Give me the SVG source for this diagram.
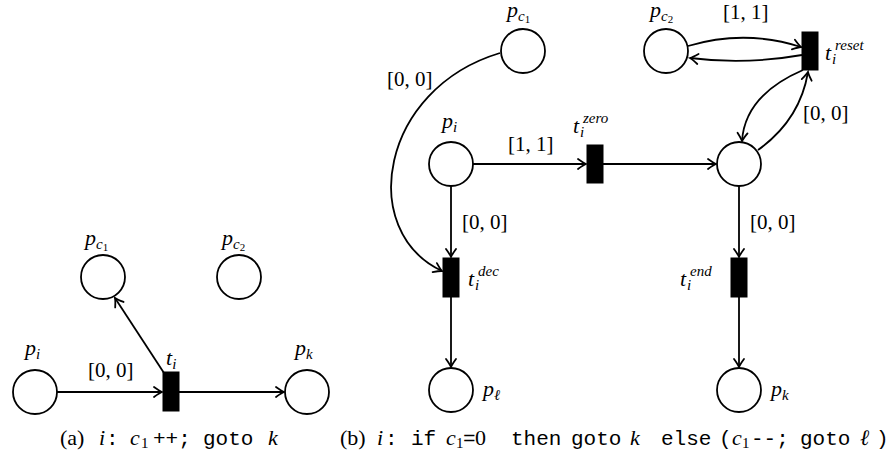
<svg xmlns="http://www.w3.org/2000/svg" width="891" height="457" viewBox="0 0 891 457">
<style>
.pl{fill:#fff;stroke:#000;stroke-width:1.8}
.tr{fill:#000;stroke:#000;stroke-width:1}
.e{fill:none;stroke:#000;stroke-width:1.8;marker-end:url(#ah)}
text{font-family:"Liberation Serif","DejaVu Serif",serif;font-size:21px;fill:#000}
.m{font-size:22px;font-style:italic}
.it{font-style:italic}
.sb{font-size:15px}
.ss{font-size:11px}
.tt{font-family:"Liberation Mono","DejaVu Sans Mono",monospace;font-size:21px}
.cap{font-size:22px}
</style>
<defs>
<marker id="ah" markerUnits="userSpaceOnUse" markerWidth="14" markerHeight="14" refX="0" refY="0" viewBox="-10 -7 12 14" orient="auto" overflow="visible">
<path d="M-8,-5 Q-2.5,-1 0,0 Q-2.5,1 -8,5" fill="none" stroke="#000" stroke-width="1.8" stroke-linecap="round"/>
</marker>
</defs>
<g id="connectors">
<path class="e" d="M57,392 L162,392"/>
<path class="e" d="M179,392 L284,392"/>
<path class="e" d="M164,373 L115,298"/>
<path class="e" d="M473,164 L586,164"/>
<path class="e" d="M603,164 L716,164"/>
<path class="e" d="M451,186 L451,257"/>
<path class="e" d="M451,297 L451,367"/>
<path class="e" d="M739,186 L739,257"/>
<path class="e" d="M739,297 L739,367"/>
<path class="e" d="M500,53 C380,89 357,231 442,271"/>
<path class="e" d="M688,46 Q745,29 801,47"/>
<path class="e" d="M802,55 Q745,65 690,58"/>
<path class="e" d="M803,70 Q745,95 742,141"/>
<path class="e" d="M758,150 Q800,120 808,72"/>
</g>
<g id="a-pi"><circle class="pl" cx="35" cy="392" r="22"/><text x="25" y="355"><tspan class="m">p</tspan><tspan class="it sb" dy="4">i</tspan></text></g>
<g id="a-pc1"><circle class="pl" cx="103" cy="277" r="22"/><text x="85" y="245"><tspan class="m">p</tspan><tspan class="it sb" dy="4">c</tspan><tspan class="ss" dy="2">1</tspan></text></g>
<g id="a-pc2"><circle class="pl" cx="239" cy="277" r="22"/><text x="222" y="245"><tspan class="m">p</tspan><tspan class="it sb" dy="4">c</tspan><tspan class="ss" dy="2">2</tspan></text></g>
<g id="a-pk"><circle class="pl" cx="307" cy="392" r="22"/><text x="295" y="355"><tspan class="m">p</tspan><tspan class="it sb" dy="4">k</tspan></text></g>
<g id="a-ti"><rect class="tr" x="163" y="372" width="16" height="39"/><text x="166" y="365"><tspan class="m">t</tspan><tspan class="it sb" dy="4">i</tspan></text></g>
<text x="88" y="377">[0, 0]</text>
<g id="b-pc1"><circle class="pl" cx="523" cy="51" r="22"/><text x="507" y="17"><tspan class="m">p</tspan><tspan class="it sb" dy="4">c</tspan><tspan class="ss" dy="2">1</tspan></text></g>
<g id="b-pc2"><circle class="pl" cx="666" cy="51" r="22"/><text x="650" y="17"><tspan class="m">p</tspan><tspan class="it sb" dy="4">c</tspan><tspan class="ss" dy="2">2</tspan></text></g>
<g id="b-pi"><circle class="pl" cx="451" cy="164" r="22"/><text x="442" y="128"><tspan class="m">p</tspan><tspan class="it sb" dy="4">i</tspan></text></g>
<g id="b-pz"><circle class="pl" cx="739" cy="164" r="22"/></g>
<g id="b-pl"><circle class="pl" cx="451" cy="390" r="22"/><text x="483" y="396"><tspan class="m">p</tspan><tspan class="it sb" dy="4">ℓ</tspan></text></g>
<g id="b-pk"><circle class="pl" cx="739" cy="390" r="22"/><text x="771" y="396"><tspan class="m">p</tspan><tspan class="it sb" dy="4">k</tspan></text></g>
<g id="b-tzero"><rect class="tr" x="587" y="145" width="16" height="38"/><text x="573" y="133"><tspan class="m">t</tspan><tspan class="it sb" x="580" dy="4">i</tspan><tspan class="it sb" x="583" dy="-14">zero</tspan></text></g>
<g id="b-treset"><rect class="tr" x="802" y="32" width="16" height="38"/><text x="825" y="60"><tspan class="m">t</tspan><tspan class="it sb" x="832" dy="4">i</tspan><tspan class="it sb" x="835" dy="-14">reset</tspan></text></g>
<g id="b-tdec"><rect class="tr" x="443" y="258" width="16" height="39"/><text x="468" y="286"><tspan class="m">t</tspan><tspan class="it sb" x="475" dy="4">i</tspan><tspan class="it sb" x="478" dy="-14">dec</tspan></text></g>
<g id="b-tend"><rect class="tr" x="731" y="258" width="16" height="39"/><text x="680" y="286"><tspan class="m">t</tspan><tspan class="it sb" x="687" dy="4">i</tspan><tspan class="it sb" x="690" dy="-14">end</tspan></text></g>
<text x="723" y="19">[1, 1]</text>
<text x="803" y="120">[0, 0]</text>
<text x="387" y="86">[0, 0]</text>
<text x="508" y="151">[1, 1]</text>
<text x="462" y="229">[0, 0]</text>
<text x="750" y="229">[0, 0]</text>
<text class="cap" y="445"><tspan x="60">(a)</tspan><tspan class="m" x="99">i</tspan><tspan class="tt" x="106">:</tspan><tspan class="m" x="130">c</tspan><tspan class="sb" x="141" dy="3">1</tspan><tspan class="tt" x="153" dy="-3">++;</tspan><tspan class="tt" x="203">goto</tspan><tspan class="m" x="268">k</tspan></text>
<text class="cap" y="445"><tspan x="340">(b)</tspan><tspan class="m" x="377">i</tspan><tspan class="tt" x="385">:</tspan><tspan class="tt" x="411">if</tspan><tspan class="m" x="446">c</tspan><tspan class="sb" x="456" dy="3">1</tspan><tspan class="tt" x="463" dy="-3">=</tspan><tspan x="475">0</tspan><tspan class="tt" x="511">then</tspan><tspan class="tt" x="571">goto</tspan><tspan class="m" x="630">k</tspan><tspan class="tt" x="661">else</tspan><tspan class="tt" x="719">(</tspan><tspan class="m" x="732">c</tspan><tspan class="sb" x="742" dy="3">1</tspan><tspan class="tt" x="751" dy="-3">--;</tspan><tspan class="tt" x="800">goto</tspan><tspan class="m" x="860">ℓ</tspan><tspan class="tt" x="876">)</tspan></text>
</svg>
